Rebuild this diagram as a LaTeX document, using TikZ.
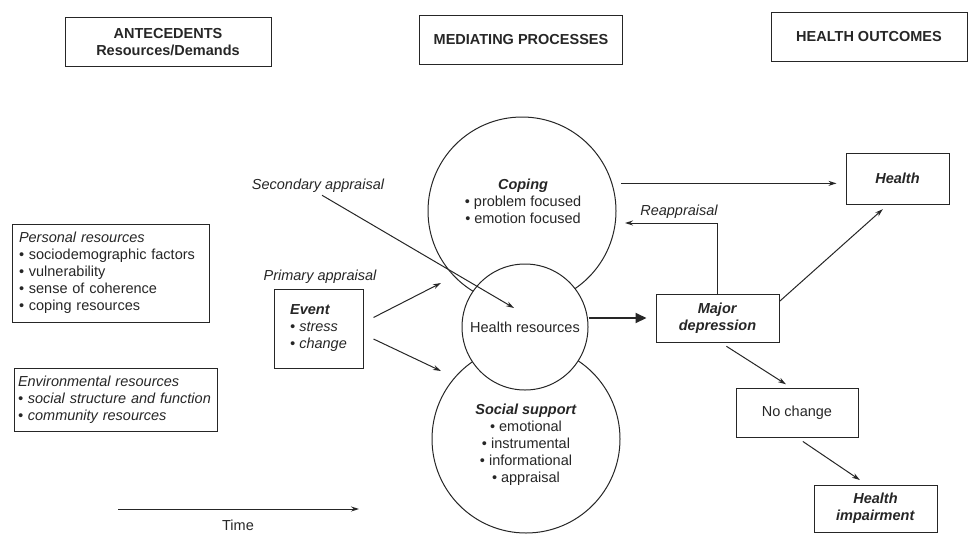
\documentclass[tikz,border=0pt]{standalone}
\usepackage{fontspec}
\setmainfont{Liberation Sans}
\usetikzlibrary{arrows.meta}
\newcommand{\dsize}{\fontsize{14.5}{17}\selectfont}

\begin{document}
\begin{tikzpicture}[x=1pt, y=-1pt, line width=1pt, color=black!85,
    every node/.style={font=\dsize},
    box/.style={draw, inner sep=6pt},
    bubble/.style={draw, circle, inner sep=0pt},
    lbl/.style={inner sep=2pt, font=\dsize\itshape},
    arr/.style={-{Stealth[length=8pt, width=5pt]}},
    bigarr/.style={-{Triangle[length=11pt, width=10pt]}, line width=2pt}]
  \useasboundingbox (0,0) rectangle (971,533);

  % column headers
  \node[box, minimum width=206, minimum height=49, align=center]
    (ante) at (168,42) {\textbf{ANTECEDENTS}\\\textbf{Resources/Demands}};
  \node[box, minimum width=203, minimum height=49]
    (medi) at (521,40) {\textbf{MEDIATING PROCESSES}};
  \node[box, minimum width=196, minimum height=49]
    (outc) at (869,37) {\textbf{HEALTH OUTCOMES}};

  % antecedents
  \node[box, text width=183, inner sep=7pt, minimum height=98, align=left]
    (pers) at (110.5,273) {\textit{Personal resources}\\
      \textbullet\ sociodemographic factors\\
      \textbullet\ vulnerability\\
      \textbullet\ sense of coherence\\
      \textbullet\ coping resources};
  \node[box, text width=195, inner sep=4pt, minimum height=63, align=left]
    (env) at (115.5,399.5) {\textit{Environmental resources}\\
      \textit{\textbullet\ social structure and function}\\
      \textit{\textbullet\ community resources}};
  \node[lbl] (prim) at (320,277) {Primary appraisal};
  \node[box, minimum width=89, minimum height=79, align=left]
    (event) at (318.5,328.5) {\textbf{\textit{Event}}\\
      \textit{\textbullet\ stress}\\\textit{\textbullet\ change}};
  \node[lbl] (sec) at (318,186) {Secondary appraisal};

  % mediating processes
  \node[bubble, minimum size=188] (coping) at (522,211) {};
  \node[bubble, minimum size=188] (social) at (526,439) {};
  \node[bubble, fill=white, minimum size=126] (resources) at (525,327)
    {Health resources};
  \node[align=center] (copingtxt) at (523,201) {\textbf{\textit{Coping}}\\
    \textbullet\ problem focused\\\textbullet\ emotion focused};
  \node[align=center] (socialtxt) at (526,445) {\textbf{\textit{Social support}}\\
    \textbullet\ emotional\\\textbullet\ instrumental\\
    \textbullet\ informational\\\textbullet\ appraisal};

  % health outcomes
  \node[box, minimum width=123, minimum height=48, align=center]
    (major) at (717.5,318) {\textbf{\textit{Major}}\\\textbf{\textit{depression}}};
  \node[box, minimum width=103, minimum height=51]
    (health) at (897.5,178.5) {\textbf{\textit{Health}}};
  \node[box, minimum width=122, minimum height=49]
    (nochange) at (797,412.5) {No change};
  \node[box, minimum width=123, minimum height=47, align=center]
    (impair) at (875.5,508.5) {\textbf{\textit{Health}}\\\textbf{\textit{impairment}}};
  \node[lbl] (reap) at (679,212) {Reappraisal};

  \coordinate (secend) at (514,308);
  \coordinate (pa1) at (441,283);
  \coordinate (pa2) at (441,371);
  \coordinate (reapend) at (625,223);
  \coordinate (t0) at (118,509);
  \coordinate (t1) at (359,509);

  \draw[arr] ([xshift=4pt]sec.south) -- (secend);
  \draw[arr] ([xshift=10pt, yshift=11pt]event.east) -- (pa1);
  \draw[arr] ([xshift=10pt, yshift=-10.5pt]event.east) -- (pa2);
  \draw[bigarr, shorten >=9pt] (resources.east |- major) -- (major.west);
  \draw[arr, shorten <=9pt, shorten >=9pt] (coping.17) -- (coping.17 -| health.west);
  \draw[arr] (major.north) |- (reapend);
  \draw[arr, shorten >=7pt] (major.15) -- (health.250);
  \draw[arr, shorten <=7pt, shorten >=6pt] ([xshift=3pt]major.south) -- ([xshift=-6pt]nochange.north);
  \draw[arr, shorten <=7pt, shorten >=8pt] (nochange.south) -- ([xshift=-9pt]impair.north);

  % time axis
  \draw[arr] (t0) -- (t1);
  \node (time) at (238,525) {Time};
\end{tikzpicture}
\end{document}
